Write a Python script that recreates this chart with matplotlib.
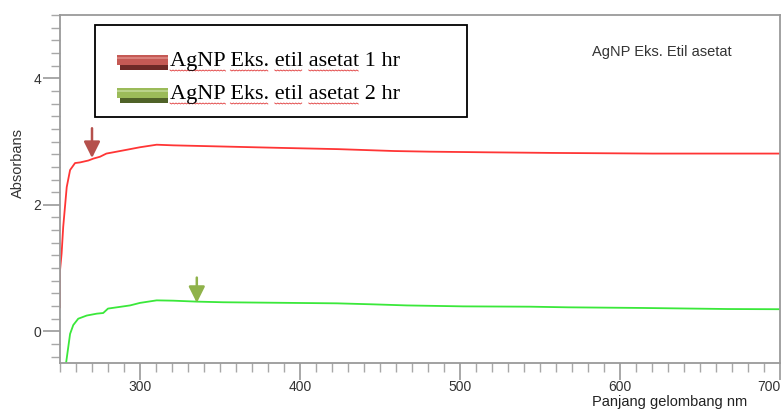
import numpy as np
import matplotlib
matplotlib.use("Agg")
import matplotlib.pyplot as plt
from matplotlib.patches import Rectangle

plt.rcParams['font.family'] = ['Liberation Sans', 'DejaVu Sans']

# data
red_wl = [250, 250, 251, 252, 254.2, 256.3, 259.4, 262.5, 267.7, 270.8, 275, 279,
          283.3, 291.7, 300, 310.4, 320.8, 337.5, 387.5, 423.8, 459, 481, 516.7,
          558, 620.6, 700]
red_abs = [0.38, 0.96, 1.23, 1.65, 2.28, 2.55, 2.66, 2.67, 2.70, 2.73, 2.76, 2.81,
           2.83, 2.87, 2.91, 2.95, 2.94, 2.93, 2.90, 2.88, 2.85, 2.84, 2.83,
           2.82, 2.81, 2.81]
green_wl = [253.8, 256.3, 258.3, 261.4, 266.7, 273, 277, 280, 293.8, 300, 310.4,
            320.8, 335.4, 352, 393.8, 423, 445.8, 466.7, 502, 543.8, 567.5, 613.5,
            667.5, 700]
green_abs = [-0.5, -0.04, 0.10, 0.20, 0.25, 0.28, 0.29, 0.36, 0.41, 0.45, 0.49,
             0.485, 0.47, 0.46, 0.45, 0.443, 0.427, 0.41, 0.395, 0.39, 0.38, 0.37,
             0.353, 0.35]
legend_labels = ["AgNP Eks. etil asetat 1 hr", "AgNP Eks. etil asetat 2 hr"]
x_ticks = [300, 400, 500, 600, 700]
y_ticks = [0, 2, 4]
red_peak = (270, 2.74)
green_peak = (335.5, 0.45)

W, H = 784, 409
fig = plt.figure(figsize=(W / 100, H / 100), dpi=100)
ax = fig.add_axes([60 / W, 1 - 363 / H, 720 / W, 348 / H])

ax.plot(red_wl, red_abs, color='#ff3535', lw=1.3)
ax.plot(green_wl, green_abs, color='#3ae83a', lw=1.3)

ax.set_xlim(250, 700)
ax.set_ylim(-0.5, 5.0)
ax.set_xticks(x_ticks)
ax.set_xticks(np.arange(250, 701, 10), minor=True)
ax.set_yticks(y_ticks)
ax.set_yticks(np.arange(-0.4, 5.01, 0.2), minor=True)
for s in ax.spines.values():
    s.set_color('#9a9a9a')
    s.set_linewidth(1.3)
ax.tick_params(which='major', length=12, width=1.2, color='#9a9a9a',
               labelsize=10, labelcolor='#333333', pad=1.5)
ax.tick_params(axis='x', which='major', pad=0.5)
ax.tick_params(which='minor', length=6.5, width=1.0, color='#a8a8a8')
labs = ax.get_xticklabels()
labs[-1].set_ha('right')

# arrows marking the peaks
ax.annotate('', xy=red_peak, xytext=(red_peak[0], red_peak[1] + 0.47),
            arrowprops=dict(arrowstyle='-|>,head_length=0.7,head_width=0.35',
                            mutation_scale=14, lw=1.8, color='#b5504c',
                            shrinkA=0, shrinkB=0))
ax.annotate('', xy=green_peak, xytext=(green_peak[0], green_peak[1] + 0.4),
            arrowprops=dict(arrowstyle='-|>,head_length=0.7,head_width=0.35',
                            mutation_scale=14, lw=1.8, color='#8fb24a',
                            shrinkA=0, shrinkB=0))

# overlay in pixel coordinates for the pasted legend and labels
ov = fig.add_axes([0, 0, 1, 1], zorder=5)
ov.set_xlim(0, W)
ov.set_ylim(H, 0)
ov.axis('off')
ov.patch.set_alpha(0)

ov.add_patch(Rectangle((95, 25), 372, 92, facecolor='white', edgecolor='black', lw=1.3))
# legend handles
ov.add_patch(Rectangle((120, 63), 48, 7, facecolor='#6e2a27', edgecolor='none'))
ov.add_patch(Rectangle((117, 55), 51, 10, facecolor='#c55a55', edgecolor='none'))
ov.add_patch(Rectangle((117, 57), 51, 2, facecolor='#d9817c', edgecolor='none'))
ov.add_patch(Rectangle((120, 96), 48, 7, facecolor='#4f6228', edgecolor='none'))
ov.add_patch(Rectangle((117, 88), 51, 10, facecolor='#9bbb59', edgecolor='none'))
ov.add_patch(Rectangle((117, 90), 51, 2, facecolor='#b9d28a', edgecolor='none'))

fig.canvas.draw()
renderer = fig.canvas.get_renderer()


def width_px(s):
    t = ov.text(0, 0, s, fontsize=16, family='Liberation Serif')
    w = t.get_window_extent(renderer).width
    t.remove()
    return w


for lab, base in zip(legend_labels, [66, 99]):
    ov.text(170, base, lab, fontsize=16, family='Liberation Serif',
            color='black', va='baseline', ha='left')
    words = lab.split(' ')
    for k in range(4):
        pre = ' '.join(words[:k + 1])
        x1 = 170 + width_px(pre)
        x0 = x1 - width_px(words[k])
        zx = np.arange(x0, x1, 1.5)
        zy = base + 4 + 1.0 * (np.arange(len(zx)) % 2)
        ov.plot(zx, zy, color='#e03a3a', lw=0.6)

ov.text(592, 52, 'AgNP Eks. Etil asetat', fontsize=10.5, color='#333333',
        va='center', ha='left')
ov.text(18, 163, 'Absorbans', fontsize=10.5, color='#333333', rotation=90,
        va='center', ha='center')
ov.text(670, 406, 'Panjang gelombang nm', fontsize=10.5, color='#222222',
        va='baseline', ha='center')

fig.savefig('out.png', dpi=100)
